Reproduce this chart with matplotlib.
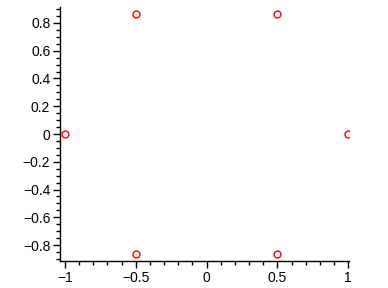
import numpy as np
import matplotlib
matplotlib.use("Agg")
import matplotlib.pyplot as plt
from matplotlib.ticker import MultipleLocator, FuncFormatter

# Data: sixth roots of unity
x_vals = [1.0, 0.5, -0.5, -1.0, -0.5, 0.5]
y_vals = [0.0, 0.866, 0.866, 0.0, -0.866, -0.866]

x_ticks = [-1, -0.5, 0, 0.5, 1]
y_ticks = [-0.8, -0.6, -0.4, -0.2, 0, 0.2, 0.4, 0.6, 0.8]

plt.rcParams['font.family'] = ['Liberation Sans', 'DejaVu Sans']

fig = plt.figure(figsize=(3.88, 2.88), dpi=100)
ax = fig.add_axes([60/388, 27/288, (349-60)/388, (261-7)/288])

ax.plot(x_vals, y_vals, linestyle='none', marker='o', markersize=5,
        markerfacecolor='none', markeredgecolor='red', markeredgewidth=1.0)

ax.set_xlim(-1.035, 1.005)
ax.set_ylim(-0.915, 0.915)

for s in ['top', 'right']:
    ax.spines[s].set_visible(False)
for s in ['left', 'bottom']:
    ax.spines[s].set_linewidth(1.0)
    ax.spines[s].set_color('black')

def fmt(v, pos):
    if abs(v) < 1e-9:
        return '0'
    s = ('%g' % v)
    return s.replace('-', '\u2212')

ax.set_xticks(x_ticks)
ax.set_yticks(y_ticks)
ax.xaxis.set_major_formatter(FuncFormatter(fmt))
ax.yaxis.set_major_formatter(FuncFormatter(fmt))
ax.xaxis.set_minor_locator(MultipleLocator(0.1))
ax.yaxis.set_minor_locator(MultipleLocator(0.05))

ax.tick_params(axis='both', which='major', length=5, width=1, labelsize=10, pad=2, direction='out')
ax.tick_params(axis='both', which='minor', length=3, width=1, direction='out')

fig.savefig('out.png', dpi=100)
